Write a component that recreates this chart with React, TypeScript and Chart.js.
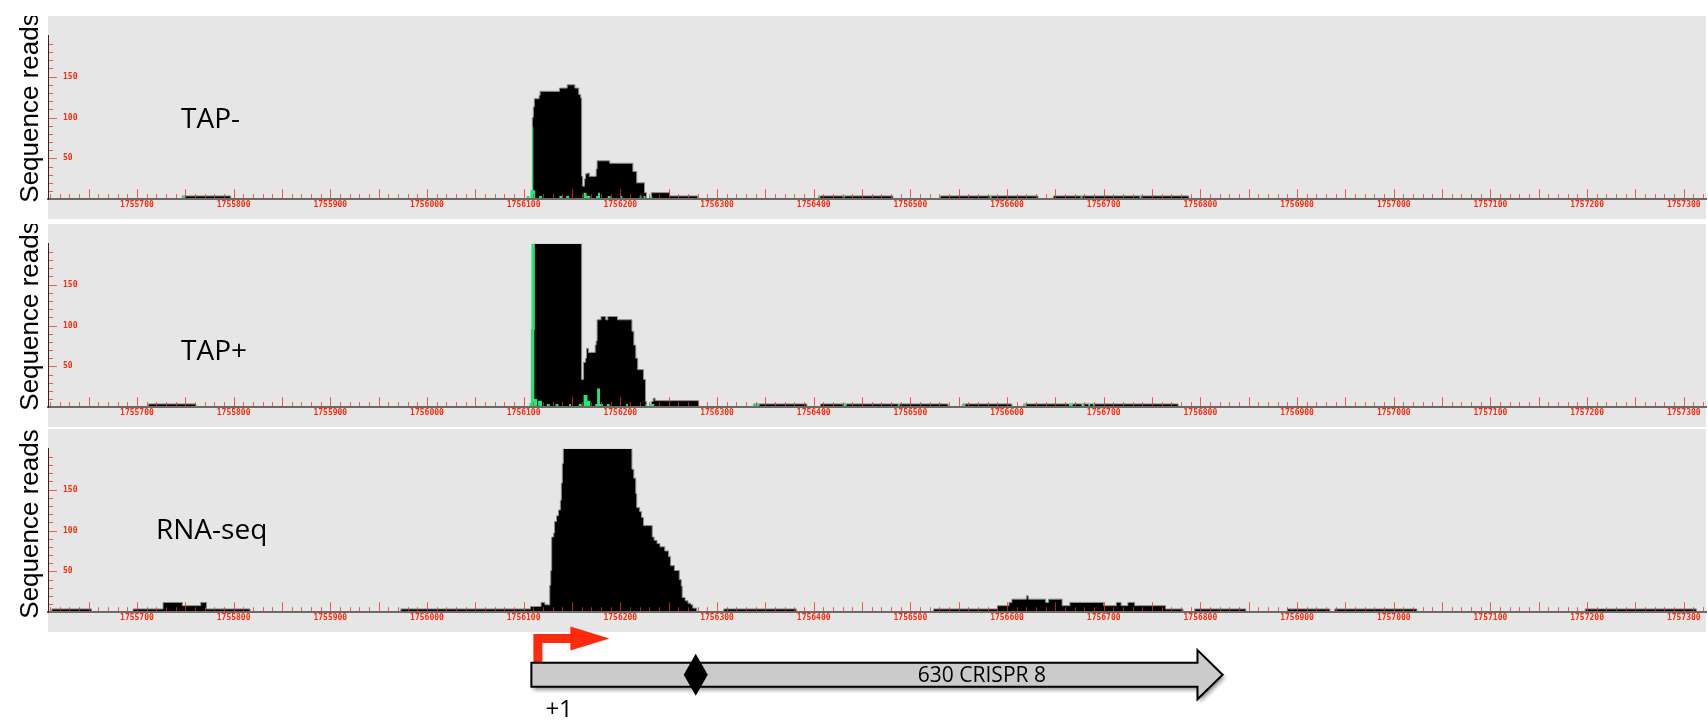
import React, { useEffect, useRef } from "react";
import { Chart, registerables } from "chart.js";

Chart.register(...registerables);

// ---------- axis ranges ----------
const X_MIN = 1755608;
const X_MAX = 1757323;
const Y_MAX = 200;
const X_TICKS: number[] = [];
for (let v = Math.ceil(X_MIN / 10) * 10; v <= X_MAX; v += 10) X_TICKS.push(v);
const Y_TICKS: number[] = [];
for (let v = 0; v < Y_MAX; v += 10) Y_TICKS.push(v);

// ---------- track names ----------
const TRACK_LABELS = ["TAP-", "TAP+", "RNA-seq"];
const Y_TITLE = "Sequence reads";

// ---------- TAP- coverage (stepped: value holds from position to next position) ----------
const TAPM_POS = [1755608, 1755747, 1755797, 1756109, 1756110, 1756111, 1756116, 1756117, 1756137, 1756145, 1756153, 1756157, 1756159, 1756160, 1756161, 1756163, 1756164, 1756166, 1756168, 1756175, 1756176, 1756189, 1756213, 1756217, 1756225, 1756227, 1756232, 1756251, 1756280, 1756405, 1756482, 1756531, 1756632, 1756648, 1756788, 1757323];
const TAPM_VAL = [0, 4, 0, 100, 113, 123, 127, 132, 136, 140, 136, 128, 124, 28, 16, 25, 31, 32, 28, 37, 47, 44, 34, 20, 8, 0, 8, 4, 0, 4, 0, 4, 0, 4, 0, 0];
// TAP- 5' ends (green): start, end, height
const TAPM_G_START = [1755747, 1756103, 1756107, 1756109, 1756110, 1756116, 1756137, 1756144, 1756162, 1756165, 1756175, 1756177, 1756187, 1756200, 1756220, 1756224, 1756231, 1756405, 1756430, 1756582, 1756676, 1756690, 1756737];
const TAPM_G_END = [1755750, 1756106, 1756109, 1756110, 1756112, 1756119, 1756140, 1756147, 1756165, 1756169, 1756177, 1756179, 1756190, 1756202, 1756222, 1756226, 1756233, 1756407, 1756432, 1756584, 1756678, 1756691, 1756739];
const TAPM_G_VAL = [4, 4, 11, 88, 11, 4, 4, 4, 8, 4, 4, 8, 4, 4, 4, 4, 4, 4, 4, 4, 4, 4, 4];

// ---------- TAP+ coverage ----------
const TAPP_POS = [1755608, 1755712, 1755761, 1756108, 1756111, 1756160, 1756162, 1756164, 1756165, 1756167, 1756174, 1756175, 1756176, 1756180, 1756185, 1756187, 1756197, 1756212, 1756214, 1756216, 1756218, 1756224, 1756226, 1756227, 1756232, 1756234, 1756236, 1756281, 1756338, 1756393, 1756407, 1756539, 1756554, 1756605, 1756617, 1756777, 1757323];
const TAPP_VAL = [0, 4, 0, 95, 260, 34, 55, 60, 72, 67, 76, 81, 107, 111, 107, 111, 107, 93, 76, 60, 46, 34, 7, 0, 7, 11, 8, 0, 4, 0, 4, 0, 4, 0, 4, 0, 0];
const TAPP_G_START = [1756106, 1756108, 1756111, 1756115, 1756124, 1756133, 1756147, 1756157, 1756162, 1756166, 1756174, 1756176, 1756179, 1756186, 1756206, 1756226, 1756231, 1756338, 1756430, 1756487, 1756554, 1756617, 1756664, 1756677, 1756684, 1756689];
const TAPP_G_END = [1756108, 1756111, 1756114, 1756119, 1756127, 1756136, 1756149, 1756160, 1756166, 1756169, 1756176, 1756179, 1756182, 1756189, 1756208, 1756228, 1756235, 1756344, 1756434, 1756489, 1756557, 1756620, 1756668, 1756680, 1756686, 1756691];
const TAPP_G_VAL = [5, 260, 10, 8, 4, 4, 4, 4, 15, 8, 4, 23, 4, 4, 4, 4, 4, 4, 4, 4, 4, 4, 4, 4, 4, 4];

// ---------- RNA-seq coverage ----------
const RNA_POS = [1755608, 1755612, 1755653, 1755696, 1755727, 1755747, 1755766, 1755772, 1755817, 1755973, 1756107, 1756118, 1756122, 1756127, 1756128, 1756129, 1756131, 1756132, 1756134, 1756136, 1756138, 1756139, 1756140, 1756141, 1756212, 1756214, 1756216, 1756217, 1756220, 1756222, 1756224, 1756233, 1756235, 1756238, 1756241, 1756246, 1756250, 1756252, 1756256, 1756261, 1756263, 1756264, 1756267, 1756270, 1756273, 1756275, 1756279, 1756307, 1756382, 1756524, 1756590, 1756602, 1756605, 1756620, 1756622, 1756640, 1756643, 1756657, 1756665, 1756700, 1756713, 1756718, 1756725, 1756732, 1756764, 1756782, 1756794, 1756847, 1756890, 1756934, 1756939, 1757024, 1757198, 1757313, 1757323];
const RNA_VAL = [0, 4, 0, 4, 12, 8, 12, 4, 0, 4, 7, 12, 9, 33, 51, 92, 97, 111, 118, 125, 137, 158, 182, 260, 175, 164, 145, 128, 123, 116, 106, 92, 88, 84, 80, 75, 68, 57, 51, 40, 32, 18, 14, 11, 9, 5, 0, 4, 0, 4, 8, 12, 16, 20, 16, 12, 16, 8, 12, 8, 12, 8, 12, 8, 4, 0, 4, 0, 4, 0, 4, 0, 4, 0, 0];
const RNA_G_START: number[] = [];
const RNA_G_END: number[] = [];
const RNA_G_VAL: number[] = [];

// ---------- gene annotation ----------
const GENE_NAME = "630 CRISPR 8";
const GENE_TSS = 1756108;
const GENE_BODY_END = 1756797;
const GENE_TIP = 1756823;
const GENE_MARK = 1756278;
const GENE_LABEL_POS = 1756574;
const TSS_LABEL = "+1";

const TICK_COLOR = "rgba(255,40,15,0.75)";
const LABEL_COLOR = "#ff2a0a";

function stepPoints(pos: number[], val: number[]) {
  return pos.map((p, i) => ({ x: p, y: val[i] }));
}
function greenPoints(s: number[], e: number[], h: number[]) {
  const pts: { x: number; y: number }[] = [{ x: X_MIN, y: 0 }];
  for (let i = 0; i < s.length; i++) {
    pts.push({ x: s[i], y: h[i] });
    pts.push({ x: e[i], y: 0 });
  }
  pts.push({ x: X_MAX, y: 0 });
  return pts;
}

const trackPlugin = {
  id: "trackDeco",
  beforeDraw(chart: any) {
    const { ctx, chartArea, height } = chart;
    ctx.save();
    ctx.fillStyle = "#e6e6e6";
    ctx.fillRect(chartArea.left, 0, chartArea.right - chartArea.left, height);
    ctx.restore();
  },
  afterDatasetsDraw(chart: any, _args: any, opts: any) {
    const { ctx, chartArea } = chart;
    const xs = chart.scales.x;
    const ys = chart.scales.y;
    ctx.save();
    ctx.strokeStyle = TICK_COLOR;
    ctx.lineWidth = 1;
    ctx.beginPath();
    for (const v of X_TICKS) {
      const px = Math.round(xs.getPixelForValue(v)) + 0.5;
      const len = v % 50 === 0 ? 10 : 5;
      ctx.moveTo(px, chartArea.bottom);
      ctx.lineTo(px, chartArea.bottom - len);
    }
    for (const v of Y_TICKS) {
      if (v === 0) continue;
      const py = Math.round(ys.getPixelForValue(v)) + 0.5;
      const len = v % 50 === 0 ? 9 : 5;
      ctx.moveTo(chartArea.left, py);
      ctx.lineTo(chartArea.left + len, py);
    }
    ctx.stroke();
    // track label
    ctx.fillStyle = "#000";
    ctx.font = '28px "Open Sans"';
    ctx.textAlign = "left";
    ctx.textBaseline = "alphabetic";
    ctx.fillText(opts.label, opts.lx, opts.ly);
    // y axis title
    ctx.translate(30.6, opts.ty);
    ctx.rotate(-Math.PI / 2);
    ctx.font = '26px "Liberation Sans"';
    ctx.textAlign = "center";
    ctx.textBaseline = "middle";
    ctx.fillText(Y_TITLE, 0, 0);
    ctx.restore();
  },
};

type TrackProps = {
  top: number;
  height: number;
  axisH: number;
  label: string;
  lx: number;
  ly: number;
  ty: number;
  pos: number[];
  val: number[];
  gs: number[];
  ge: number[];
  gv: number[];
};

function Track(p: TrackProps) {
  const ref = useRef<HTMLCanvasElement | null>(null);
  useEffect(() => {
    if (!ref.current) return;
    const chart = new Chart(ref.current, {
      type: "line",
      data: {
        datasets: [
          {
            label: "5' ends",
            data: greenPoints(p.gs, p.ge, p.gv),
            stepped: true,
            fill: "origin",
            backgroundColor: "#1fe87a",
            borderColor: "rgba(0,0,0,0)",
            borderWidth: 0,
            pointRadius: 0,
          },
          {
            label: "coverage",
            data: stepPoints(p.pos, p.val),
            stepped: true,
            fill: "origin",
            backgroundColor: "#000000",
            borderColor: "#8c8c8c",
            borderWidth: 1,
            pointRadius: 0,
          },
        ],
      },
      options: {
        responsive: false,
        animation: false,
        events: [],
        layout: { padding: { left: 0, right: 2, top: 0, bottom: 0 } },
        plugins: {
          legend: { display: false },
          tooltip: { enabled: false },
          trackDeco: { label: p.label, lx: p.lx, ly: p.ly, ty: p.ty },
        } as any,
        scales: {
          x: {
            type: "linear",
            min: X_MIN,
            max: X_MAX,
            offset: false,
            grid: { display: false, drawTicks: false },
            border: { display: true, color: "#6a6a6a", width: 2, z: 1 },
            ticks: {
              autoSkip: false,
              maxRotation: 0,
              minRotation: 0,
              padding: 1,
              z: 1,
              color: LABEL_COLOR,
              font: { family: "DejaVu Sans Mono", size: 8, weight: "bold" },
              callback: (v: any) => (Number(v) % 100 === 0 ? String(v) : ""),
            },
            afterBuildTicks: (s: any) => {
              s.ticks = X_TICKS.map((v) => ({ value: v }));
            },
            afterFit: (s: any) => {
              s.height = p.axisH;
            },
          },
          y: {
            type: "linear",
            position: "left",
            min: 0,
            max: Y_MAX,
            grid: { display: false, drawTicks: false },
            border: { display: true, color: "#3c1f1f", width: 1, z: 1 },
            ticks: {
              autoSkip: false,
              mirror: true,
              padding: 15,
              z: 1,
              color: LABEL_COLOR,
              font: { family: "DejaVu Sans Mono", size: 8, weight: "bold" },
              callback: (v: any) => (Number(v) % 50 === 0 && Number(v) > 0 ? String(v) : ""),
            },
            afterBuildTicks: (s: any) => {
              s.ticks = Y_TICKS.map((v) => ({ value: v }));
            },
            afterFit: (s: any) => {
              s.width = 48;
            },
            title: { display: false, text: Y_TITLE },
          },
        },
      } as any,
      plugins: [trackPlugin],
    });
    return () => chart.destroy();
  }, []);
  return (
    <canvas
      ref={ref}
      width={1708}
      height={p.height}
      style={{ position: "absolute", left: 0, top: p.top, width: 1708, height: p.height }}
    />
  );
}

const genePlugin = {
  id: "geneDeco",
  afterDraw(chart: any) {
    const { ctx } = chart;
    const xs = chart.scales.x;
    const x0 = xs.getPixelForValue(GENE_TSS);
    const x1 = xs.getPixelForValue(GENE_BODY_END);
    const x2 = xs.getPixelForValue(GENE_TIP);
    const cy = 54.7;
    const bh = 12;
    const hh = 24.6;
    ctx.save();
    // red TSS arrow
    ctx.fillStyle = "#ff2a0c";
    ctx.beginPath();
    ctx.moveTo(x0 + 2, cy - bh);
    ctx.lineTo(x0 + 2, 14);
    ctx.lineTo(x0 + 39, 14);
    ctx.lineTo(x0 + 39, 6.5);
    ctx.lineTo(x0 + 78, 18.5);
    ctx.lineTo(x0 + 39, 30.5);
    ctx.lineTo(x0 + 39, 23);
    ctx.lineTo(x0 + 11, 23);
    ctx.lineTo(x0 + 11, cy - bh);
    ctx.closePath();
    ctx.fill();
    // gene body arrow
    ctx.beginPath();
    ctx.moveTo(x0, cy - bh);
    ctx.lineTo(x1, cy - bh);
    ctx.lineTo(x1, cy - hh);
    ctx.lineTo(x2, cy);
    ctx.lineTo(x1, cy + hh);
    ctx.lineTo(x1, cy + bh);
    ctx.lineTo(x0, cy + bh);
    ctx.closePath();
    ctx.shadowColor = "rgba(0,0,0,0.45)";
    ctx.shadowBlur = 4;
    ctx.shadowOffsetX = 2;
    ctx.shadowOffsetY = 3;
    ctx.fillStyle = "#cbcbcb";
    ctx.fill();
    ctx.shadowColor = "rgba(0,0,0,0)";
    ctx.lineWidth = 2;
    ctx.strokeStyle = "#000";
    ctx.lineJoin = "miter";
    ctx.stroke();
    // diamond marker
    const xd = xs.getPixelForValue(GENE_MARK);
    ctx.fillStyle = "#000";
    ctx.beginPath();
    ctx.moveTo(xd, cy - 21);
    ctx.lineTo(xd + 12, cy);
    ctx.lineTo(xd, cy + 21);
    ctx.lineTo(xd - 12, cy);
    ctx.closePath();
    ctx.fill();
    // texts
    ctx.font = '21px "Open Sans"';
    ctx.textAlign = "center";
    ctx.textBaseline = "alphabetic";
    ctx.fillText(GENE_NAME, xs.getPixelForValue(GENE_LABEL_POS), 61.7);
    ctx.font = '24px "Open Sans"';
    ctx.textAlign = "left";
    ctx.fillText(TSS_LABEL, x0 + 14, 97);
    ctx.restore();
  },
};

function GeneTrack() {
  const ref = useRef<HTMLCanvasElement | null>(null);
  useEffect(() => {
    if (!ref.current) return;
    const chart = new Chart(ref.current, {
      type: "line",
      data: { datasets: [] },
      options: {
        responsive: false,
        animation: false,
        events: [],
        layout: { padding: { left: 48, right: 2, top: 0, bottom: 0 } },
        plugins: { legend: { display: false }, tooltip: { enabled: false } },
        scales: {
          x: { type: "linear", min: X_MIN, max: X_MAX, display: false },
          y: { type: "linear", min: 0, max: 1, display: false },
        },
      } as any,
      plugins: [genePlugin],
    });
    return () => chart.destroy();
  }, []);
  return (
    <canvas
      ref={ref}
      width={1708}
      height={106}
      style={{ position: "absolute", left: 0, top: 620, width: 1708, height: 106 }}
    />
  );
}

export default function App() {
  return (
    <div style={{ position: "fixed", left: 0, top: 0, width: 1708, height: 726, background: "#fff", overflow: "hidden" }}>
      <Track top={16} height={203} axisH={9.7} label={TRACK_LABELS[0]} lx={181} ly={112.3} ty={92}
        pos={TAPM_POS} val={TAPM_VAL} gs={TAPM_G_START} ge={TAPM_G_END} gv={TAPM_G_VAL} />
      <Track top={224} height={203} axisH={10.3} label={TRACK_LABELS[1]} lx={181} ly={136} ty={92}
        pos={TAPP_POS} val={TAPP_VAL} gs={TAPP_G_START} ge={TAPP_G_END} gv={TAPP_G_VAL} />
      <Track top={429} height={203} axisH={9.7} label={TRACK_LABELS[2]} lx={156} ly={110} ty={95}
        pos={RNA_POS} val={RNA_VAL} gs={RNA_G_START} ge={RNA_G_END} gv={RNA_G_VAL} />
      <GeneTrack />
    </div>
  );
}
